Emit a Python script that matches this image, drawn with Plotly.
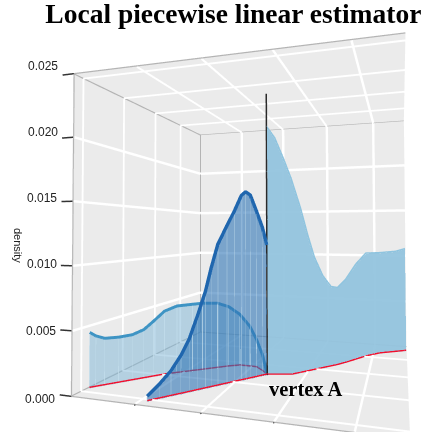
import plotly.graph_objects as go
import math

# curtain A (left limb): path on the floor and density along it
a_x = [-0.036, 0.023, 0.109, 0.247, 0.386, 0.507, 0.611, 0.733, 0.893, 1.097, 1.234, 1.438, 1.597, 1.767, 1.958, 2.086, 2.252, 2.382]
a_y = [1.154, 1.221, 1.319, 1.476, 1.634, 1.771, 1.889, 2.027, 2.158, 2.325, 2.437, 2.604, 2.734, 2.841, 2.835, 2.83, 2.66, 2.504]
a_d = [0.0045, 0.004155, 0.003874, 0.003825, 0.003888, 0.004203, 0.004827, 0.005609, 0.00599, 0.006055, 0.006091, 0.006001, 0.005612, 0.004838, 0.003792, 0.002589, 0.001455, 0.0]
# curtain B (front limb)
b_x = [1.103, 1.213, 1.324, 1.421, 1.505, 1.59, 1.67, 1.732, 1.804, 1.904, 1.99, 2.069, 2.121, 2.178, 2.251, 2.325, 2.382]
b_y = [0.943, 1.078, 1.212, 1.327, 1.43, 1.536, 1.634, 1.709, 1.797, 1.921, 2.03, 2.124, 2.186, 2.255, 2.345, 2.44, 2.504]
b_d = [0.00042, 0.00112, 0.00197, 0.00301, 0.00422, 0.006, 0.00782, 0.0097, 0.01161, 0.01313, 0.01441, 0.01571, 0.01608, 0.01582, 0.01448, 0.01302, 0.01146]
# curtain C (right limb)
c_x = [2.382, 2.515, 2.65, 2.783, 2.904, 3.002, 3.10, 3.221, 3.342, 3.44, 3.569, 3.73, 3.892, 4.124, 4.438, 4.62]
c_y = [2.504, 2.542, 2.581, 2.62, 2.757, 2.868, 2.979, 3.117, 3.254, 3.365, 3.551, 3.807, 4.063, 4.333, 4.545, 4.67]
c_d = [0.02208, 0.02104, 0.01926, 0.01733, 0.01484, 0.01244, 0.01029, 0.00855, 0.00749, 0.00734, 0.00807, 0.00946, 0.01047, 0.01046, 0.01058, 0.01085]
vertex = (2.382, 2.504)
z_ticks = [0, 0.005, 0.01, 0.015, 0.02, 0.025]
z_labels = ["0.000", "0.005", "0.010", "0.015", "0.020", "0.025"]
x_grid = [1, 2, 3, 4]
y_grid = [1, 2, 3, 4]
xr = [-0.07, 4.63]
yr = [0.82, 5.0]
zr = [0, 0.025]
PAD_X, PAD_Y, PAD_Z = 0.05, 0.02, 0.005

PANE = "#EBEBEB"
EDGE = "#B4B4B4"
LIGHT = dict(ambient=1, diffuse=0, specular=0, roughness=1, fresnel=0)


def pane(xs, ys, zs):
    return go.Mesh3d(x=xs, y=ys, z=zs, i=[0, 0], j=[1, 2], k=[2, 3], color=PANE, opacity=1,
                     flatshading=True, lighting=LIGHT, hoverinfo="skip", showscale=False)


def segs(lines, color, width, op=1):
    xs, ys, zs = [], [], []
    for p, q in lines:
        xs += [p[0], q[0], None]
        ys += [p[1], q[1], None]
        zs += [p[2], q[2], None]
    return go.Scatter3d(x=xs, y=ys, z=zs, mode="lines", line=dict(color=color, width=width), opacity=op,
                        hoverinfo="skip", showlegend=False)


def curtain(xs, ys, ds, fill, op):
    n = len(xs)
    vx = xs + xs
    vy = ys + ys
    vz = [0] * n + ds
    i, j, k = [], [], []
    for m in range(n - 1):
        i += [m, m + 1]
        j += [m + 1, n + m + 1]
        k += [n + m, n + m]
    return go.Mesh3d(x=vx, y=vy, z=vz, i=i, j=j, k=k, color=fill, opacity=op, flatshading=True,
                     lighting=LIGHT, hoverinfo="skip", showscale=False)


x0, x1 = xr
y0, y1 = yr
z0, z1 = zr
dx, dy, dz = x1 - x0, y1 - y0, z1 - z0
ex = dx * 0.002
ey = dy * 0.002
ez = dz * 0.002

traces = [
    pane([x0, x1, x1, x0], [y0, y0, y1, y1], [z0] * 4),
    pane([x0, x1, x1, x0], [y0, y0, y1, y1], [z1] * 4),
    pane([x0] * 4, [y0, y1, y1, y0], [z0, z0, z1, z1]),
    pane([x0, x1, x1, x0], [y1] * 4, [z0, z0, z1, z1]),
]
grid = []
for gx in x_grid:
    grid += [((gx, y0, z0 + ez), (gx, y1 - ey, z0 + ez)), ((gx, y1 - ey, z0), (gx, y1 - ey, z1)),
             ((gx, y0, z1 - ez), (gx, y1 - ey, z1 - ez))]
for gy in y_grid:
    grid += [((x0, gy, z0 + ez), (x1, gy, z0 + ez)), ((x0 + ex, gy, z0), (x0 + ex, gy, z1)),
             ((x0, gy, z1 - ez), (x1, gy, z1 - ez))]
for t in z_ticks[1:-1]:
    grid += [((x0 + ex, y0, t), (x0 + ex, y1, t)), ((x0, y1 - ey, t), (x1, y1 - ey, t))]
traces.append(segs(grid, "white", 5))
edges = [((x0, y0, z0), (x0, y0, z1)), ((x0, y0, z1), (x1, y0, z1)), ((x0 + ex, y0, z1 - ez), (x0 + ex, y1, z1 - ez)),
         ((x0, y1 - ey, z1), (x1, y1 - ey, z1)), ((x0 + ex, y1 - ey, z0), (x0 + ex, y1 - ey, z1)), ((x0, y0, z0), (x1, y0, z0)),
         ((x0 + ex, y0, z0 + ez), (x0 + ex, y1, z0 + ez)), ((x0, y1 - ey, z0 + ez), (x1, y1 - ey, z0 + ez))]
traces.append(segs(edges, EDGE, 2.5))
traces.append(segs([((g, y0, z0), (g, y0 - dy * 0.008, z0)) for g in x_grid], "#555555", 2.5))
traces.append(segs([((x0, y0, t), (x0 - dx * 0.044, y0, t)) for t in z_ticks], "#333333", 3))

traces.append(curtain(c_x, c_y, c_d, "#94C4DE", 0.95))
traces.append(curtain(a_x, a_y, a_d, "#7DB5D6", 0.5))
traces.append(curtain(b_x, b_y, b_d, "#2F75B5", 0.6))
traces.append(segs([((p, q, 0), (p, q, d)) for p, q, d in zip(a_x, a_y, a_d)], "#C4DEEC", 1.5, 0.7))
traces.append(segs([((p, q, 0), (p, q, d)) for p, q, d in zip(b_x, b_y, b_d)], "#BBD6E8", 1.5, 0.45))
traces.append(go.Scatter3d(x=a_x, y=a_y, z=a_d, mode="lines", line=dict(color="#3E94C4", width=6),
                           hoverinfo="skip", showlegend=False))
traces.append(go.Scatter3d(x=c_x, y=c_y, z=c_d, mode="lines", line=dict(color="#8FC4DF", width=3),
                           hoverinfo="skip", showlegend=False))
traces.append(go.Scatter3d(x=b_x, y=b_y, z=b_d, mode="lines", line=dict(color="#1F66AE", width=7),
                           hoverinfo="skip", showlegend=False))
for xs, ys in [(a_x, a_y), (b_x, b_y), (c_x, c_y)]:
    traces.append(go.Scatter3d(x=xs, y=ys, z=[ez * 2] * len(xs), mode="lines",
                               line=dict(color="#F0102F", width=3), hoverinfo="skip", showlegend=False))
traces.append(segs([((vertex[0], vertex[1], 0), (vertex[0], vertex[1], z1))], "#2A2A2A", 3))

fig = go.Figure(traces)

th = math.radians(20.1)
ex_, ey_, ez_ = 0.4725, -1.916, 0.004
hidden = dict(showbackground=False, showgrid=False, zeroline=False, showspikes=False, title="")
tick_notes = [dict(x=x0, y=y0, z=t, text=lab, showarrow=False, xanchor="right", yanchor="middle", xshift=-14,
                   yshift=-2.5 + 2 * n, font=dict(family="Liberation Sans", size=12, color="#222"))
              for n, (t, lab) in enumerate(zip(z_ticks, z_labels))]
fig.update_layout(
    width=422, height=432, margin=dict(l=0, r=0, t=0, b=0), paper_bgcolor="white", showlegend=False,
    title=dict(text="<b>Local piecewise linear estimator</b>", x=0.553, xanchor="center", y=0.968, yanchor="middle",
               font=dict(family="Liberation Serif", size=27.5, color="black")),
    annotations=[dict(text="density", xref="paper", yref="paper", x=18 / 422, y=1 - 245 / 432, showarrow=False,
                      xanchor="center", yanchor="middle", textangle=90,
                      font=dict(family="Liberation Sans", size=11, color="#222"))],
    scene=dict(
        domain=dict(x=[0, 1], y=[0, 1]),
        aspectmode="manual",
        aspectratio=dict(x=0.972 * (1 + 2 * PAD_X), y=1.088 * (1 + 2 * PAD_Y), z=1 * (1 + 2 * PAD_Z)),
        camera=dict(projection=dict(type="perspective"),
                    eye=dict(x=ex_, y=ey_, z=ez_),
                    center=dict(x=ex_ - math.sin(th), y=ey_ + math.cos(th), z=ez_ + 0.031),
                    up=dict(x=0, y=0, z=1)),
        xaxis=dict(range=[x0 - dx * PAD_X, x1 + dx * PAD_X], tickvals=x_grid, showticklabels=False, ticks="", **hidden),
        yaxis=dict(range=[y0 - dy * PAD_Y, y1 + dy * PAD_Y], tickvals=y_grid, showticklabels=False, ticks="", **hidden),
        zaxis=dict(range=[z0 - dz * PAD_Z, z1 + dz * PAD_Z], tickvals=z_ticks, ticktext=z_labels, ticks="",
                   showticklabels=False, **hidden),
        annotations=tick_notes + [dict(x=3.155, y=1.95, z=0, text="<b>vertex A</b>", showarrow=False, yshift=2.5,
                                       font=dict(family="Liberation Serif", size=20.5, color="black"))],
    ),
)
fig.write_html("out.html", config={"displayModeBar": False}, post_script="document.body.style.margin='0';")
